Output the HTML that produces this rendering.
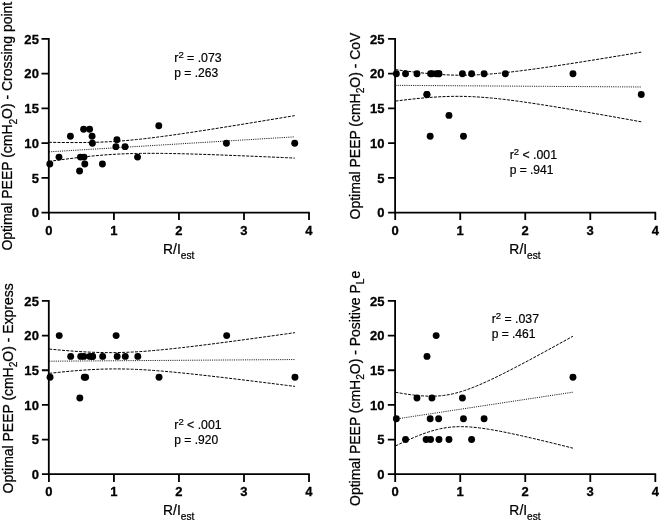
<!DOCTYPE html>
<html><head><meta charset="utf-8"><title>Figure</title>
<style>
html,body{margin:0;padding:0;background:#fff;}
body{width:660px;height:524px;overflow:hidden;}
svg{display:block;will-change:transform;font-family:"Liberation Sans",sans-serif;}
.ax{stroke:#000;stroke-width:1.8;fill:none;}
.ci{stroke:#000;stroke-width:1;fill:none;stroke-dasharray:3 1.3;}
.reg{stroke:#000;stroke-width:0.9;fill:none;stroke-dasharray:1.1 1.1;}
.t{stroke:#000;stroke-width:0.3px;font-weight:bold;letter-spacing:0.1px;font-size:13px;fill:#000;}
.l{stroke:#000;stroke-width:0.25px;font-size:14.5px;fill:#000;}
.a{stroke:#000;stroke-width:0.2px;font-size:12px;fill:#000;}
.sub{font-size:10.6px;}
.sup{font-size:9.3px;}
circle{fill:#000;}
</style></head><body>
<svg width="660" height="524" viewBox="0 0 660 524">
<rect width="660" height="524" fill="#fff"/>
<g>
<polyline class="ci" points="48.9,142.27 53.07,142.36 57.23,142.43 61.4,142.49 65.57,142.53 69.73,142.56 73.9,142.58 78.06,142.57 82.23,142.54 86.4,142.5 90.56,142.42 94.73,142.32 98.9,142.19 103.06,142.03 107.23,141.83 111.39,141.61 115.56,141.35 119.73,141.05 123.89,140.73 128.06,140.37 132.23,139.98 136.39,139.57 140.56,139.13 144.73,138.66 148.89,138.17 153.06,137.66 157.22,137.14 161.39,136.59 165.56,136.03 169.72,135.46 173.89,134.87 178.06,134.28 182.22,133.67 186.39,133.06 190.56,132.44 194.72,131.81 198.89,131.17 203.05,130.53 207.22,129.88 211.39,129.23 215.55,128.58 219.72,127.92 223.89,127.25 228.05,126.59 232.22,125.92 236.38,125.25 240.55,124.57 244.72,123.89 248.88,123.21 253.05,122.53 257.22,121.85 261.38,121.17 265.55,120.48 269.72,119.79 273.88,119.1 278.05,118.41 282.21,117.72 286.38,117.03 290.55,116.33 294.71,115.64"/>
<polyline class="ci" points="48.9,161.44 53.07,160.85 57.23,160.27 61.4,159.7 65.57,159.15 69.73,158.61 73.9,158.08 78.06,157.58 82.23,157.1 86.4,156.64 90.56,156.21 94.73,155.8 98.9,155.42 103.06,155.08 107.23,154.76 111.39,154.48 115.56,154.23 119.73,154.01 123.89,153.83 128.06,153.68 132.23,153.56 136.39,153.46 140.56,153.4 144.73,153.35 148.89,153.33 153.06,153.34 157.22,153.35 161.39,153.39 165.56,153.44 169.72,153.5 173.89,153.58 178.06,153.67 182.22,153.76 186.39,153.87 190.56,153.98 194.72,154.1 198.89,154.23 203.05,154.36 207.22,154.5 211.39,154.64 215.55,154.79 219.72,154.94 223.89,155.1 228.05,155.26 232.22,155.42 236.38,155.58 240.55,155.75 244.72,155.91 248.88,156.09 253.05,156.26 257.22,156.43 261.38,156.61 265.55,156.79 269.72,156.97 273.88,157.15 278.05,157.33 282.21,157.51 286.38,157.7 290.55,157.88 294.71,158.07"/>
<polyline class="reg" points="48.9,151.86 53.07,151.6 57.23,151.35 61.4,151.09 65.57,150.84 69.73,150.59 73.9,150.33 78.06,150.08 82.23,149.82 86.4,149.57 90.56,149.31 94.73,149.06 98.9,148.81 103.06,148.55 107.23,148.3 111.39,148.04 115.56,147.79 119.73,147.53 123.89,147.28 128.06,147.02 132.23,146.77 136.39,146.52 140.56,146.26 144.73,146.01 148.89,145.75 153.06,145.5 157.22,145.24 161.39,144.99 165.56,144.74 169.72,144.48 173.89,144.23 178.06,143.97 182.22,143.72 186.39,143.46 190.56,143.21 194.72,142.96 198.89,142.7 203.05,142.45 207.22,142.19 211.39,141.94 215.55,141.68 219.72,141.43 223.89,141.18 228.05,140.92 232.22,140.67 236.38,140.41 240.55,140.16 244.72,139.9 248.88,139.65 253.05,139.4 257.22,139.14 261.38,138.89 265.55,138.63 269.72,138.38 273.88,138.12 278.05,137.87 282.21,137.62 286.38,137.36 290.55,137.11 294.71,136.85"/>
<path class="ax" d="M48.8,38.05 V212.7 H309.82"/>
<path class="ax" d="M48.8,212.7 h-7.3 M48.8,177.95 h-7.3 M48.8,143.2 h-7.3 M48.8,108.45 h-7.3 M48.8,73.7 h-7.3 M48.8,38.95 h-7.3 M48.9,212.7 v7.4 M113.93,212.7 v7.4 M178.96,212.7 v7.4 M243.99,212.7 v7.4 M309.02,212.7 v7.4"/>
<text class="t" text-anchor="end" transform="translate(39,217.3) scale(1,1)">0</text>
<text class="t" text-anchor="end" transform="translate(39,182.55) scale(1,1)">5</text>
<text class="t" text-anchor="end" transform="translate(39,147.8) scale(1,1)">10</text>
<text class="t" text-anchor="end" transform="translate(39,113.05) scale(1,1)">15</text>
<text class="t" text-anchor="end" transform="translate(39,78.3) scale(1,1)">20</text>
<text class="t" text-anchor="end" transform="translate(39,43.55) scale(1,1)">25</text>
<text class="t" text-anchor="middle" transform="translate(48.9,234.65) scale(1,1)">0</text>
<text class="t" text-anchor="middle" transform="translate(113.93,234.65) scale(1,1)">1</text>
<text class="t" text-anchor="middle" transform="translate(178.96,234.65) scale(1,1)">2</text>
<text class="t" text-anchor="middle" transform="translate(243.99,234.65) scale(1,1)">3</text>
<text class="t" text-anchor="middle" transform="translate(309.02,234.65) scale(1,1)">4</text>
<circle cx="49.81" cy="164.05" r="3.45"/>
<circle cx="58.98" cy="157.1" r="3.45"/>
<circle cx="70.42" cy="136.25" r="3.45"/>
<circle cx="79.59" cy="171" r="3.45"/>
<circle cx="80.44" cy="157.1" r="3.45"/>
<circle cx="83.63" cy="129.3" r="3.45"/>
<circle cx="84.02" cy="157.1" r="3.45"/>
<circle cx="84.8" cy="164.05" r="3.45"/>
<circle cx="89.61" cy="129.3" r="3.45"/>
<circle cx="92.08" cy="136.25" r="3.45"/>
<circle cx="92.41" cy="143.2" r="3.45"/>
<circle cx="102.42" cy="164.05" r="3.45"/>
<circle cx="115.88" cy="146.67" r="3.45"/>
<circle cx="116.92" cy="139.72" r="3.45"/>
<circle cx="125.05" cy="146.67" r="3.45"/>
<circle cx="137.54" cy="157.1" r="3.45"/>
<circle cx="158.8" cy="125.82" r="3.45"/>
<circle cx="226.43" cy="143.2" r="3.45"/>
<circle cx="294.71" cy="143.2" r="3.45"/>
<text class="l" transform="translate(163.06,254.2) scale(0.957,1)">R/I<tspan class="sub" dy="4.8">est</tspan></text>
<text class="l" text-anchor="middle" transform="translate(12.2,126.22) rotate(-90) scale(0.963,1)">Optimal PEEP (cmH<tspan class="sub" dy="4.5">2</tspan><tspan dy="-4.5">O) - Crossing point</tspan></text>
<text class="a" transform="translate(174.3,62) scale(1.025,1)">r<tspan class="sup" dy="-3.9">2</tspan><tspan dy="3.9"> = .073</tspan></text>
<text class="a" transform="translate(174.3,76.95) scale(1.003,1)">p = .263</text>
</g>
<g>
<polyline class="ci" points="395.45,69.6 399.62,70.18 403.78,70.75 407.95,71.29 412.12,71.81 416.28,72.31 420.45,72.77 424.61,73.21 428.78,73.61 432.95,73.98 437.11,74.3 441.28,74.58 445.45,74.81 449.61,74.99 453.78,75.12 457.94,75.19 462.11,75.21 466.28,75.18 470.44,75.09 474.61,74.95 478.78,74.76 482.94,74.52 487.11,74.24 491.28,73.92 495.44,73.57 499.61,73.18 503.77,72.76 507.94,72.31 512.11,71.83 516.27,71.34 520.44,70.82 524.61,70.29 528.77,69.74 532.94,69.18 537.11,68.6 541.27,68.01 545.44,67.42 549.6,66.81 553.77,66.19 557.94,65.57 562.1,64.93 566.27,64.3 570.44,63.65 574.6,63 578.77,62.35 582.93,61.69 587.1,61.02 591.27,60.36 595.43,59.69 599.6,59.01 603.77,58.34 607.93,57.66 612.1,56.97 616.27,56.29 620.43,55.6 624.6,54.91 628.76,54.22 632.93,53.53 637.1,52.83 641.26,52.14"/>
<polyline class="ci" points="395.45,101.1 399.62,100.57 403.78,100.06 407.95,99.57 412.12,99.1 416.28,98.66 420.45,98.25 424.61,97.87 428.78,97.52 432.95,97.21 437.11,96.95 441.28,96.72 445.45,96.55 449.61,96.42 453.78,96.35 457.94,96.33 462.11,96.36 466.28,96.45 470.44,96.6 474.61,96.79 478.78,97.04 482.94,97.33 487.11,97.66 491.28,98.04 495.44,98.45 499.61,98.9 503.77,99.37 507.94,99.88 512.11,100.41 516.27,100.96 520.44,101.53 524.61,102.11 528.77,102.72 532.94,103.34 537.11,103.97 541.27,104.61 545.44,105.27 549.6,105.93 553.77,106.6 557.94,107.28 562.1,107.97 566.27,108.66 570.44,109.36 574.6,110.07 578.77,110.78 582.93,111.49 587.1,112.21 591.27,112.93 595.43,113.66 599.6,114.39 603.77,115.12 607.93,115.85 612.1,116.59 616.27,117.33 620.43,118.07 624.6,118.82 628.76,119.56 632.93,120.31 637.1,121.06 641.26,121.81"/>
<polyline class="reg" points="395.45,85.35 399.62,85.37 403.78,85.4 407.95,85.43 412.12,85.46 416.28,85.49 420.45,85.51 424.61,85.54 428.78,85.57 432.95,85.6 437.11,85.62 441.28,85.65 445.45,85.68 449.61,85.71 453.78,85.73 457.94,85.76 462.11,85.79 466.28,85.82 470.44,85.84 474.61,85.87 478.78,85.9 482.94,85.93 487.11,85.95 491.28,85.98 495.44,86.01 499.61,86.04 503.77,86.06 507.94,86.09 512.11,86.12 516.27,86.15 520.44,86.18 524.61,86.2 528.77,86.23 532.94,86.26 537.11,86.29 541.27,86.31 545.44,86.34 549.6,86.37 553.77,86.4 557.94,86.42 562.1,86.45 566.27,86.48 570.44,86.51 574.6,86.53 578.77,86.56 582.93,86.59 587.1,86.62 591.27,86.64 595.43,86.67 599.6,86.7 603.77,86.73 607.93,86.75 612.1,86.78 616.27,86.81 620.43,86.84 624.6,86.86 628.76,86.89 632.93,86.92 637.1,86.95 641.26,86.98"/>
<path class="ax" d="M395.1,38.05 V212.7 H656.12"/>
<path class="ax" d="M395.1,212.7 h-7 M395.1,177.95 h-7 M395.1,143.2 h-7 M395.1,108.45 h-7 M395.1,73.7 h-7 M395.1,38.95 h-7 M395.2,212.7 v7.4 M460.23,212.7 v7.4 M525.26,212.7 v7.4 M590.29,212.7 v7.4 M655.32,212.7 v7.4"/>
<text class="t" text-anchor="end" transform="translate(384.7,217.3) scale(1,1)">0</text>
<text class="t" text-anchor="end" transform="translate(384.7,182.55) scale(1,1)">5</text>
<text class="t" text-anchor="end" transform="translate(384.7,147.8) scale(1,1)">10</text>
<text class="t" text-anchor="end" transform="translate(384.7,113.05) scale(1,1)">15</text>
<text class="t" text-anchor="end" transform="translate(384.7,78.3) scale(1,1)">20</text>
<text class="t" text-anchor="end" transform="translate(384.7,43.55) scale(1,1)">25</text>
<text class="t" text-anchor="middle" transform="translate(395.2,234.65) scale(1,1)">0</text>
<text class="t" text-anchor="middle" transform="translate(460.23,234.65) scale(1,1)">1</text>
<text class="t" text-anchor="middle" transform="translate(525.26,234.65) scale(1,1)">2</text>
<text class="t" text-anchor="middle" transform="translate(590.29,234.65) scale(1,1)">3</text>
<text class="t" text-anchor="middle" transform="translate(655.32,234.65) scale(1,1)">4</text>
<circle cx="396.36" cy="73.7" r="3.45"/>
<circle cx="405.53" cy="73.7" r="3.45"/>
<circle cx="416.97" cy="73.7" r="3.45"/>
<circle cx="426.92" cy="94.55" r="3.45"/>
<circle cx="426.92" cy="94.55" r="3.45"/>
<circle cx="430.18" cy="136.25" r="3.45"/>
<circle cx="430.57" cy="73.7" r="3.45"/>
<circle cx="431.93" cy="73.7" r="3.45"/>
<circle cx="436.16" cy="73.7" r="3.45"/>
<circle cx="438.63" cy="73.7" r="3.45"/>
<circle cx="438.96" cy="73.7" r="3.45"/>
<circle cx="448.97" cy="115.4" r="3.45"/>
<circle cx="462.43" cy="73.7" r="3.45"/>
<circle cx="463.47" cy="136.25" r="3.45"/>
<circle cx="471.6" cy="73.7" r="3.45"/>
<circle cx="484.09" cy="73.7" r="3.45"/>
<circle cx="505.35" cy="73.7" r="3.45"/>
<circle cx="572.98" cy="73.7" r="3.45"/>
<circle cx="641.26" cy="94.55" r="3.45"/>
<text class="l" transform="translate(509.36,254.2) scale(0.957,1)">R/I<tspan class="sub" dy="4.8">est</tspan></text>
<text class="l" text-anchor="middle" transform="translate(359.5,126.02) rotate(-90) scale(0.963,1)">Optimal PEEP (cmH<tspan class="sub" dy="4.5">2</tspan><tspan dy="-4.5">O) - CoV</tspan></text>
<text class="a" transform="translate(509.65,159.05) scale(1.025,1)">r<tspan class="sup" dy="-3.9">2</tspan><tspan dy="3.9"> &lt; .001</tspan></text>
<text class="a" transform="translate(509.65,174) scale(1.003,1)">p = .941</text>
</g>
<g>
<polyline class="ci" points="49.15,349.06 53.32,349.46 57.48,349.84 61.65,350.21 65.82,350.56 69.98,350.9 74.15,351.21 78.31,351.49 82.48,351.75 86.65,351.99 90.81,352.18 94.98,352.35 99.15,352.48 103.31,352.57 107.48,352.62 111.64,352.62 115.81,352.59 119.98,352.51 124.14,352.39 128.31,352.24 132.48,352.04 136.64,351.81 140.81,351.54 144.98,351.25 149.14,350.92 153.31,350.57 157.47,350.2 161.64,349.8 165.81,349.39 169.97,348.95 174.14,348.51 178.31,348.05 182.47,347.57 186.64,347.09 190.81,346.6 194.97,346.09 199.14,345.58 203.3,345.06 207.47,344.54 211.64,344.01 215.8,343.47 219.97,342.93 224.14,342.38 228.3,341.83 232.47,341.28 236.63,340.72 240.8,340.16 244.97,339.59 249.13,339.03 253.3,338.46 257.47,337.88 261.63,337.31 265.8,336.73 269.97,336.16 274.13,335.58 278.3,335 282.46,334.41 286.63,333.83 290.8,333.24 294.96,332.66"/>
<polyline class="ci" points="49.15,373.35 53.32,372.89 57.48,372.45 61.65,372.02 65.82,371.61 69.98,371.22 74.15,370.86 78.31,370.51 82.48,370.19 86.65,369.91 90.81,369.65 94.98,369.43 99.15,369.25 103.31,369.1 107.48,368.99 111.64,368.93 115.81,368.91 119.98,368.93 124.14,368.99 128.31,369.09 132.48,369.23 136.64,369.41 140.81,369.61 144.98,369.85 149.14,370.12 153.31,370.42 157.47,370.74 161.64,371.07 165.81,371.43 169.97,371.81 174.14,372.2 178.31,372.6 182.47,373.02 186.64,373.45 190.81,373.88 194.97,374.33 199.14,374.79 203.3,375.25 207.47,375.72 211.64,376.19 215.8,376.67 219.97,377.16 224.14,377.65 228.3,378.14 232.47,378.64 236.63,379.14 240.8,379.64 244.97,380.15 249.13,380.66 253.3,381.17 257.47,381.69 261.63,382.21 265.8,382.73 269.97,383.25 274.13,383.77 278.3,384.3 282.46,384.82 286.63,385.35 290.8,385.88 294.96,386.41"/>
<polyline class="reg" points="49.15,361.2 53.32,361.17 57.48,361.14 61.65,361.12 65.82,361.09 69.98,361.06 74.15,361.03 78.31,361 82.48,360.97 86.65,360.95 90.81,360.92 94.98,360.89 99.15,360.86 103.31,360.83 107.48,360.8 111.64,360.78 115.81,360.75 119.98,360.72 124.14,360.69 128.31,360.66 132.48,360.64 136.64,360.61 140.81,360.58 144.98,360.55 149.14,360.52 153.31,360.49 157.47,360.47 161.64,360.44 165.81,360.41 169.97,360.38 174.14,360.35 178.31,360.32 182.47,360.3 186.64,360.27 190.81,360.24 194.97,360.21 199.14,360.18 203.3,360.15 207.47,360.13 211.64,360.1 215.8,360.07 219.97,360.04 224.14,360.01 228.3,359.98 232.47,359.96 236.63,359.93 240.8,359.9 244.97,359.87 249.13,359.84 253.3,359.82 257.47,359.79 261.63,359.76 265.8,359.73 269.97,359.7 274.13,359.67 278.3,359.65 282.46,359.62 286.63,359.59 290.8,359.56 294.96,359.53"/>
<path class="ax" d="M48.8,300.05 V474.2 H309.82"/>
<path class="ax" d="M48.8,474.2 h-6.9 M48.8,439.55 h-6.9 M48.8,404.9 h-6.9 M48.8,370.25 h-6.9 M48.8,335.6 h-6.9 M48.8,300.95 h-6.9 M48.9,474.2 v7.8 M113.93,474.2 v7.8 M178.96,474.2 v7.8 M243.99,474.2 v7.8 M309.02,474.2 v7.8"/>
<text class="t" text-anchor="end" transform="translate(39,478.8) scale(1,1)">0</text>
<text class="t" text-anchor="end" transform="translate(39,444.15) scale(1,1)">5</text>
<text class="t" text-anchor="end" transform="translate(39,409.5) scale(1,1)">10</text>
<text class="t" text-anchor="end" transform="translate(39,374.85) scale(1,1)">15</text>
<text class="t" text-anchor="end" transform="translate(39,340.2) scale(1,1)">20</text>
<text class="t" text-anchor="end" transform="translate(39,305.55) scale(1,1)">25</text>
<text class="t" text-anchor="middle" transform="translate(48.9,496.15) scale(1,1)">0</text>
<text class="t" text-anchor="middle" transform="translate(113.93,496.15) scale(1,1)">1</text>
<text class="t" text-anchor="middle" transform="translate(178.96,496.15) scale(1,1)">2</text>
<text class="t" text-anchor="middle" transform="translate(243.99,496.15) scale(1,1)">3</text>
<text class="t" text-anchor="middle" transform="translate(309.02,496.15) scale(1,1)">4</text>
<circle cx="50.06" cy="377.18" r="3.45"/>
<circle cx="59.23" cy="335.6" r="3.45"/>
<circle cx="70.67" cy="356.39" r="3.45"/>
<circle cx="79.84" cy="397.97" r="3.45"/>
<circle cx="80.69" cy="356.39" r="3.45"/>
<circle cx="83.88" cy="356.39" r="3.45"/>
<circle cx="84.27" cy="377.18" r="3.45"/>
<circle cx="85.63" cy="377.18" r="3.45"/>
<circle cx="89.86" cy="356.39" r="3.45"/>
<circle cx="92.33" cy="356.39" r="3.45"/>
<circle cx="92.66" cy="356.39" r="3.45"/>
<circle cx="102.67" cy="356.39" r="3.45"/>
<circle cx="116.13" cy="335.6" r="3.45"/>
<circle cx="117.17" cy="356.39" r="3.45"/>
<circle cx="125.3" cy="356.39" r="3.45"/>
<circle cx="137.79" cy="356.39" r="3.45"/>
<circle cx="159.05" cy="377.18" r="3.45"/>
<circle cx="226.68" cy="335.6" r="3.45"/>
<circle cx="294.96" cy="377.18" r="3.45"/>
<text class="l" transform="translate(163.06,515.4) scale(0.957,1)">R/I<tspan class="sub" dy="4.8">est</tspan></text>
<text class="l" text-anchor="middle" transform="translate(12.6,388.38) rotate(-90) scale(0.963,1)">Optimal PEEP (cmH<tspan class="sub" dy="4.5">2</tspan><tspan dy="-4.5">O) - Express</tspan></text>
<text class="a" transform="translate(174.3,429) scale(1.025,1)">r<tspan class="sup" dy="-3.9">2</tspan><tspan dy="3.9"> &lt; .001</tspan></text>
<text class="a" transform="translate(174.3,443.95) scale(1.003,1)">p = .920</text>
</g>
<g>
<polyline class="ci" points="395.45,392.24 398.46,392.78 401.47,393.29 404.48,393.78 407.49,394.24 410.5,394.66 413.5,395.04 416.51,395.38 419.52,395.67 422.53,395.9 425.54,396.07 428.55,396.18 431.56,396.2 434.57,396.15 437.58,396.01 440.59,395.78 443.59,395.45 446.6,395.02 449.61,394.5 452.62,393.87 455.63,393.16 458.64,392.35 461.65,391.46 464.66,390.49 467.67,389.44 470.68,388.34 473.68,387.17 476.69,385.95 479.7,384.68 482.71,383.37 485.72,382.02 488.73,380.64 491.74,379.23 494.75,377.79 497.76,376.33 500.77,374.84 503.77,373.34 506.78,371.82 509.79,370.29 512.8,368.74 515.81,367.18 518.82,365.61 521.83,364.02 524.84,362.43 527.85,360.83 530.86,359.23 533.86,357.61 536.87,355.99 539.88,354.36 542.89,352.73 545.9,351.09 548.91,349.45 551.92,347.8 554.93,346.15 557.94,344.5 560.95,342.84 563.95,341.18 566.96,339.52 569.97,337.85 572.98,336.18"/>
<polyline class="ci" points="395.45,445.93 398.46,444.47 401.47,443.05 404.48,441.65 407.49,440.28 410.5,438.94 413.5,437.65 416.51,436.4 419.52,435.2 422.53,434.06 425.54,432.97 428.55,431.96 431.56,431.02 434.57,430.16 437.58,429.39 440.59,428.71 443.59,428.13 446.6,427.64 449.61,427.25 452.62,426.96 455.63,426.77 458.64,426.66 461.65,426.64 464.66,426.7 467.67,426.83 470.68,427.03 473.68,427.29 476.69,427.59 479.7,427.95 482.71,428.35 485.72,428.79 488.73,429.25 491.74,429.75 494.75,430.28 497.76,430.83 500.77,431.4 503.77,431.99 506.78,432.6 509.79,433.22 512.8,433.86 515.81,434.51 518.82,435.17 521.83,435.84 524.84,436.52 527.85,437.2 530.86,437.9 533.86,438.6 536.87,439.31 539.88,440.03 542.89,440.75 545.9,441.47 548.91,442.2 551.92,442.94 554.93,443.68 557.94,444.42 560.95,445.16 563.95,445.91 566.96,446.66 569.97,447.42 572.98,448.18"/>
<polyline class="reg" points="395.45,419.08 398.46,418.63 401.47,418.17 404.48,417.71 407.49,417.26 410.5,416.8 413.5,416.35 416.51,415.89 419.52,415.43 422.53,414.98 425.54,414.52 428.55,414.07 431.56,413.61 434.57,413.15 437.58,412.7 440.59,412.24 443.59,411.79 446.6,411.33 449.61,410.87 452.62,410.42 455.63,409.96 458.64,409.51 461.65,409.05 464.66,408.59 467.67,408.14 470.68,407.68 473.68,407.23 476.69,406.77 479.7,406.31 482.71,405.86 485.72,405.4 488.73,404.95 491.74,404.49 494.75,404.03 497.76,403.58 500.77,403.12 503.77,402.67 506.78,402.21 509.79,401.75 512.8,401.3 515.81,400.84 518.82,400.39 521.83,399.93 524.84,399.47 527.85,399.02 530.86,398.56 533.86,398.11 536.87,397.65 539.88,397.19 542.89,396.74 545.9,396.28 548.91,395.83 551.92,395.37 554.93,394.91 557.94,394.46 560.95,394 563.95,393.55 566.96,393.09 569.97,392.64 572.98,392.18"/>
<path class="ax" d="M395.1,300.05 V474.2 H656.12"/>
<path class="ax" d="M395.1,474.2 h-7.3 M395.1,439.55 h-7.3 M395.1,404.9 h-7.3 M395.1,370.25 h-7.3 M395.1,335.6 h-7.3 M395.1,300.95 h-7.3 M395.2,474.2 v7.8 M460.23,474.2 v7.8 M525.26,474.2 v7.8 M590.29,474.2 v7.8 M655.32,474.2 v7.8"/>
<text class="t" text-anchor="end" transform="translate(384.7,478.8) scale(1,1)">0</text>
<text class="t" text-anchor="end" transform="translate(384.7,444.15) scale(1,1)">5</text>
<text class="t" text-anchor="end" transform="translate(384.7,409.5) scale(1,1)">10</text>
<text class="t" text-anchor="end" transform="translate(384.7,374.85) scale(1,1)">15</text>
<text class="t" text-anchor="end" transform="translate(384.7,340.2) scale(1,1)">20</text>
<text class="t" text-anchor="end" transform="translate(384.7,305.55) scale(1,1)">25</text>
<text class="t" text-anchor="middle" transform="translate(395.2,496.15) scale(1,1)">0</text>
<text class="t" text-anchor="middle" transform="translate(460.23,496.15) scale(1,1)">1</text>
<text class="t" text-anchor="middle" transform="translate(525.26,496.15) scale(1,1)">2</text>
<text class="t" text-anchor="middle" transform="translate(590.29,496.15) scale(1,1)">3</text>
<text class="t" text-anchor="middle" transform="translate(655.32,496.15) scale(1,1)">4</text>
<circle cx="396.36" cy="418.76" r="3.45"/>
<circle cx="405.53" cy="439.55" r="3.45"/>
<circle cx="416.97" cy="397.97" r="3.45"/>
<circle cx="426.14" cy="439.55" r="3.45"/>
<circle cx="426.99" cy="356.39" r="3.45"/>
<circle cx="430.18" cy="418.76" r="3.45"/>
<circle cx="430.57" cy="439.55" r="3.45"/>
<circle cx="431.93" cy="397.97" r="3.45"/>
<circle cx="436.16" cy="335.6" r="3.45"/>
<circle cx="438.63" cy="418.76" r="3.45"/>
<circle cx="438.96" cy="439.55" r="3.45"/>
<circle cx="448.97" cy="439.55" r="3.45"/>
<circle cx="462.43" cy="397.97" r="3.45"/>
<circle cx="463.47" cy="418.76" r="3.45"/>
<circle cx="471.6" cy="439.55" r="3.45"/>
<circle cx="484.09" cy="418.76" r="3.45"/>
<circle cx="572.98" cy="377.18" r="3.45"/>
<text class="l" transform="translate(509.36,515.4) scale(0.957,1)">R/I<tspan class="sub" dy="4.8">est</tspan></text>
<text class="l" text-anchor="middle" transform="translate(359.5,388.38) rotate(-90) scale(0.963,1)">Optimal PEEP (cmH<tspan class="sub" dy="4.5">2</tspan><tspan dy="-4.5">O) - Positive P</tspan><tspan class="sub" dy="4.5">L</tspan><tspan dy="-4.5">e</tspan></text>
<text class="a" transform="translate(491.65,323.25) scale(1.025,1)">r<tspan class="sup" dy="-3.9">2</tspan><tspan dy="3.9"> = .037</tspan></text>
<text class="a" transform="translate(491.65,338.2) scale(1.003,1)">p = .461</text>
</g>
</svg>
</body></html>
